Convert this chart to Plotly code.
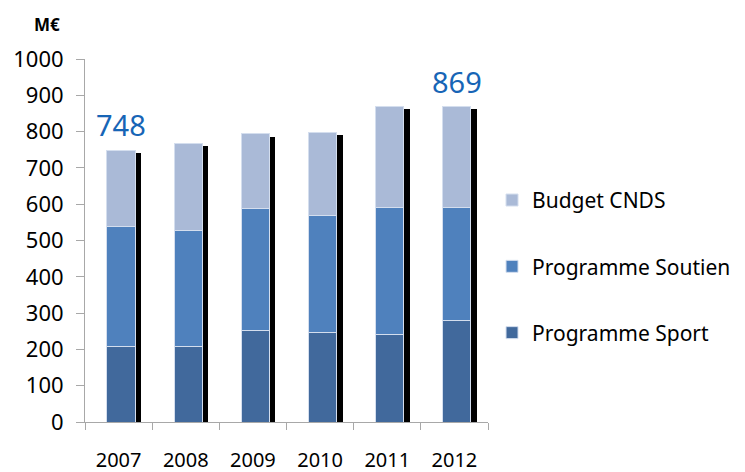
import plotly.graph_objects as go

years = ["2007", "2008", "2009", "2010", "2011", "2012"]
sport = [207, 207, 251, 246, 240, 279]
soutien = [331, 320, 337, 324, 351, 313]
cnds = [210, 241, 206, 228, 278, 277]
labelled_years = ["2007", "2012"]

totals = [a + b + c for a, b, c in zip(sport, soutien, cnds)]

FONT = "Noto Sans"
c_sport = "#41699C"
c_soutien = "#4F81BD"
c_cnds = "#AABAD7"
edge = dict(color="#D4DEEE", width=1)
BW = 0.42
OFF = -BW / 2 + 0.035

fig = go.Figure()

# shadow (drawn on hidden, slightly shifted axes)
fig.add_trace(go.Bar(x=years, y=totals, width=BW, offset=OFF,
                     marker=dict(color="black", line=dict(width=0)),
                     xaxis="x", yaxis="y", showlegend=False, hoverinfo="skip"))

fig.add_trace(go.Bar(x=years, y=sport, name="Programme Sport", width=BW, offset=OFF,
                     marker=dict(color=c_sport, line=edge), xaxis="x2", yaxis="y2",
                     legendgroup="a", legendrank=3))
fig.add_trace(go.Bar(x=years, y=soutien, name="Programme Soutien", width=BW, offset=OFF,
                     marker=dict(color=c_soutien, line=edge), xaxis="x2", yaxis="y2",
                     legendgroup="b", legendrank=2))
fig.add_trace(go.Bar(x=years, y=cnds, name="Budget CNDS", width=BW, offset=OFF,
                     marker=dict(color=c_cnds, line=edge), xaxis="x2", yaxis="y2",
                     legendgroup="c", legendrank=1))

for yr in labelled_years:
    i = years.index(yr)
    fig.add_annotation(x=i + 0.035, y=totals[i], xref="x2", yref="y2", text=str(totals[i]),
                       showarrow=False, xanchor="center", yanchor="bottom", yshift=4,
                       font=dict(family=FONT, size=29, color="#1765B6"))

fig.add_annotation(x=-0.094, y=1.094, xref="paper", yref="paper", text="<b>M€</b>",
                   showarrow=False, xanchor="center", yanchor="middle",
                   font=dict(family=FONT, size=17, color="black"))

axcol = "#A8A8A8"
fig.update_layout(
    width=737, height=464,
    margin=dict(l=77, r=257, t=51, b=50, autoexpand=False),
    paper_bgcolor="white", plot_bgcolor="white",
    barmode="stack",
    font=dict(family=FONT, size=20, color="black"),
    xaxis=dict(range=[-0.59, 5.41], visible=False, type="category", anchor="y"),
    yaxis=dict(range=[8, 1008], visible=False, anchor="x"),
    xaxis2=dict(overlaying="x", anchor="y2", side="bottom", type="category", range=[-0.5, 5.5],
                showline=True, linecolor=axcol, linewidth=1, ticks="outside",
                tickson="boundaries", ticklen=7, tickcolor=axcol, showgrid=False,
                ticklabelstandoff=20, automargin=False, tickfont=dict(family=FONT, size=20)),
    yaxis2=dict(overlaying="y", anchor="x2", side="left", range=[0, 1000], dtick=100,
                showline=True, linecolor=axcol, linewidth=1, ticks="outside",
                ticklen=8, tickcolor=axcol, showgrid=False, zeroline=False,
                ticklabelstandoff=8, automargin=False, tickfont=dict(family=FONT, size=22)),
    legend=dict(x=1.01, y=0.667, xanchor="left", yanchor="top",
                traceorder="grouped", tracegroupgap=36,
                font=dict(family=FONT, size=21), bgcolor="rgba(0,0,0,0)"),
    bargap=0.5,
)

fig.write_html("out.html")
